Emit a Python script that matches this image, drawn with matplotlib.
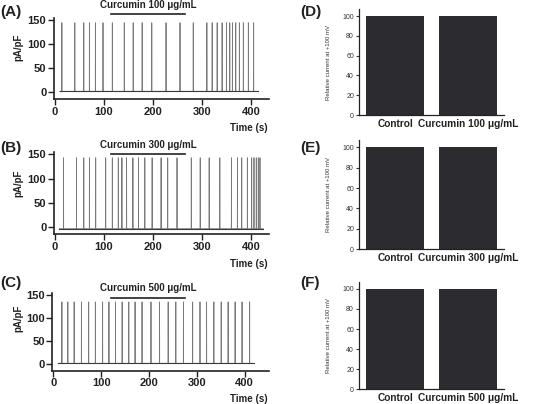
import numpy as np
import matplotlib
matplotlib.use('Agg')
import matplotlib.pyplot as plt

plt.rcParams['font.family'] = ['Liberation Sans', 'DejaVu Sans']

# spike times (s)
spikes_a = [14.2, 40.6, 58.9, 70.4, 82.6, 98.1, 117.1, 141.5, 159.7, 178.0, 197.6,
            226.7, 255.2, 282.2, 310.0, 320.8, 331.0, 341.1, 349.9, 356.7, 362.1,
            368.9, 376.3, 384.4, 394.6, 405.4]
spikes_b = [17.6, 44.0, 58.9, 70.4, 83.2, 103.6, 117.1, 129.3, 136.7, 146.2, 159.1,
            170.6, 183.4, 198.3, 216.6, 230.1, 249.1, 278.2, 296.4, 314.7, 336.4,
            360.1, 372.3, 381.1, 392.6, 401.4, 406.1, 410.8, 414.9, 418.3]
spikes_c = [18.0, 30.4, 43.6, 58.8, 74.0, 87.9, 103.1, 116.3, 130.1, 143.9, 157.8,
            170.9, 185.5, 204.2, 222.1, 240.1, 256.1, 272.0, 291.3, 306.6, 320.4,
            335.6, 350.9, 365.4, 380.0, 394.5, 410.4]
peaks = [145, 143, 135]
baselines = [1, -4, 1]
trace_span = [(9.5, 413.5), (8.8, 425), (10.4, 418.7)]
drug_span = [(115, 266), (115, 265), (121, 275)]
doses = ['100', '300', '500']

groups = ['Control', 'Curcumin']
relative = [100, 100]

fig = plt.figure(figsize=(5.34, 4.04), dpi=100)

# left panels: [left, bottom, width, height]
left_pos = [[0.101, 0.755, 0.403, 0.2005],
            [0.101, 0.4208, 0.403, 0.203],
            [0.098, 0.0824, 0.405, 0.193]]
right_pos = [[0.672, 0.7153, 0.272, 0.262],
             [0.672, 0.383, 0.272, 0.27],
             [0.672, 0.0364, 0.272, 0.266]]
letters_l = ['(A)', '(B)', '(C)']
letters_r = ['(D)', '(E)', '(F)']
letter_y = [12, 148, 283]
bar_y = [[164, 183], [151, 170], [143.5, 164.6]]
xl = [437, 437, 450]

for i, spikes in enumerate([spikes_a, spikes_b, spikes_c]):
    ax = fig.add_axes(left_pos[i])
    b = baselines[i]
    t0, t1 = trace_span[i]
    xs, ys = [t0], [b]
    for s in spikes:
        xs += [s - 0.2, s, s + 0.2]
        ys += [b, peaks[i], b]
    xs.append(t1)
    ys.append(b)
    ax.plot(xs, ys, color='#7a7a7a', lw=0.6)
    ax.plot([t0, t1], [b, b], color='#3a3a3a', lw=0.8)
    ax.set_xlim(-2, xl[i])
    ax.set_ylim(-15, 155)
    ax.set_xticks([0, 100, 200, 300, 400])
    ax.set_yticks([0, 50, 100, 150])
    for sp in ['top', 'right']:
        ax.spines[sp].set_visible(False)
    for sp in ['left', 'bottom']:
        ax.spines[sp].set_linewidth(1.2)
        ax.spines[sp].set_color('#222222')
    ax.tick_params(length=4, width=1.0, labelsize=8, pad=1.5, colors='#222222')
    for lab in ax.get_xticklabels() + ax.get_yticklabels():
        lab.set_fontweight('bold')
    d0, d1 = drug_span[i]
    ax.plot([d0, d1], [bar_y[i][0]] * 2, color='#222222', lw=1.2, clip_on=False)
    ax.text((d0 + d1) / 2, bar_y[i][1], 'Curcumin ' + doses[i] + ' μg/mL',
            ha='center', va='center', fontsize=7, fontweight='bold', color='#222222')
    fig.text(268 / 534, 1 - (letter_y[i] + 116) / 404, 'Time (s)', ha='right', va='center',
             fontsize=7, fontweight='bold', color='#222222')
    fig.text(18 / 534, 1 - (letter_y[i] + 35) / 404, 'pA/pF', rotation=90, ha='center',
             va='center', fontsize=7, fontweight='bold', color='#222222')
    fig.text(0.0, 1 - letter_y[i] / 404, letters_l[i], ha='left', va='center',
             fontsize=11, fontweight='bold', color='#222222')

for i in range(3):
    ax = fig.add_axes(right_pos[i])
    ax.bar([0, 1], relative, width=0.8, color='#2b2b30')
    ax.set_xlim(-0.5, 1.5)
    ax.set_ylim(0, 107)
    ax.set_yticks([0, 20, 40, 60, 80, 100])
    ax.set_xticks([0, 1])
    ax.set_xticklabels([groups[0], groups[1] + ' ' + doses[i] + ' μg/mL'],
                       fontsize=7.3, fontweight='bold', color='#222222')
    ax.tick_params(axis='x', length=0, pad=3)
    ax.tick_params(axis='y', length=2.5, width=0.8, labelsize=5, pad=1, colors='#333333')
    for sp in ['top', 'right']:
        ax.spines[sp].set_visible(False)
    for sp in ['left', 'bottom']:
        ax.spines[sp].set_linewidth(0.9)
        ax.spines[sp].set_color('#222222')
    ax.set_ylabel('Relative current at +100 mV', fontsize=4.3, color='#333333', labelpad=8)
    fig.text(300 / 534, 1 - letter_y[i] / 404, letters_r[i], ha='left', va='center',
             fontsize=11, fontweight='bold', color='#222222')

fig.savefig('out.png', dpi=100)
